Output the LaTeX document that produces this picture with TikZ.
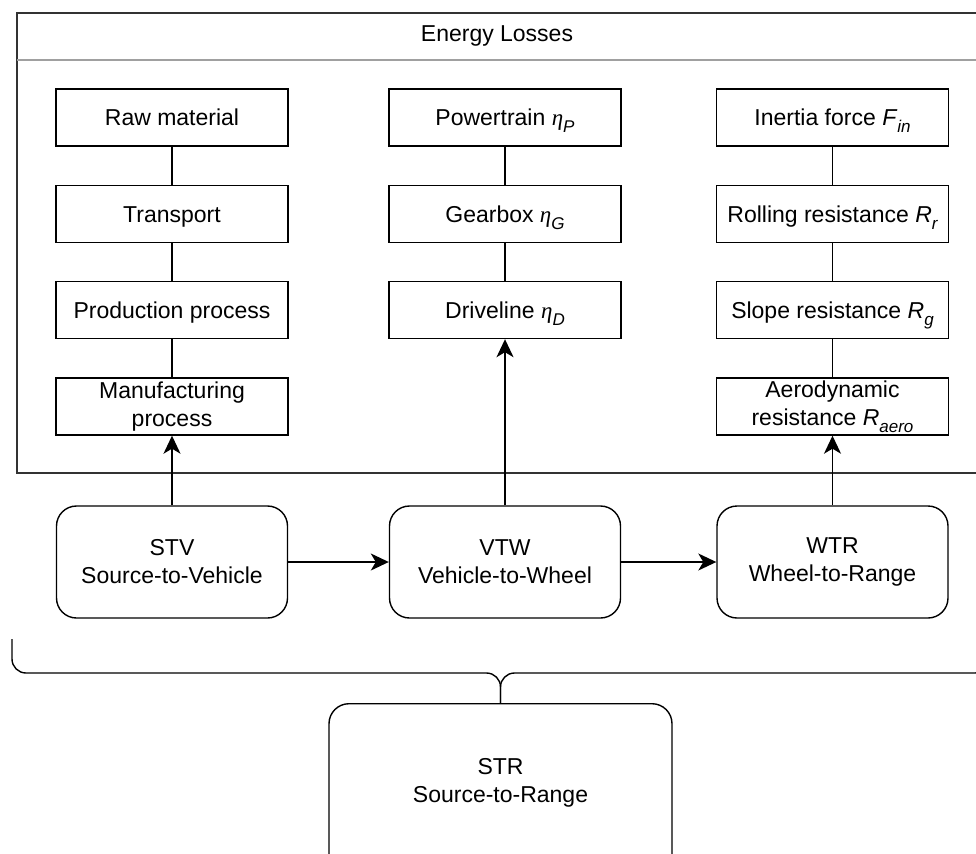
\documentclass[tikz,border=0pt]{standalone}
\usepackage{fontspec}
\setmainfont{Liberation Sans}
\newfontfamily\etafont{Liberation Serif}
\usetikzlibrary{arrows.meta}

% italic subscript at a fixed size, for symbols set inside large labels
\newcommand{\lowidx}[1]{\raisebox{-0.3em}{\fontsize{17}{17}\selectfont\itshape #1}}
\newcommand{\effsym}[1]{{\etafont\itshape η}\lowidx{#1}}
\newcommand{\varsym}[2]{\textit{#1}\lowidx{#2}}

\definecolor{framegray}{HTML}{333333}
\definecolor{rulegray}{HTML}{A0A0A0}

\begin{document}
\begin{tikzpicture}[x=1pt, y=-1pt,
  font=\fontsize{23}{28}\selectfont,
  lossbox/.style={draw, line width=1.4pt, minimum width=232pt, minimum height=57pt,
    align=center, inner sep=1pt},
  oneline/.style={lossbox, text height=16.5pt, text depth=0pt},
  stagebox/.style={draw, line width=1.4pt, rounded corners=20pt, minimum width=231pt,
    minimum height=112pt, align=center},
  link/.style={line width=1.4pt},
  flow/.style={line width=1.4pt, -{Stealth[length=18pt, width=17pt, inset=5pt]}},
  bracket/.style={line width=1.4pt, rounded corners=14pt}]

\useasboundingbox (0,0) rectangle (976,853);
\clip (0,0) rectangle (976,853);

% container for the loss categories
\draw[line width=1.4pt, framegray] (17,13) rectangle (995,473);
\draw[line width=1.4pt, rulegray] (17,60) -- (995,60);
\node[text height=16.5pt, text depth=0pt] (title) at (497,33) {Energy Losses};

% loss chains
\node[oneline] (raw)   at (172,117.5) {Raw material};
\node[oneline] (trans) at (172,214)   {Transport};
\node[oneline] (prod)  at (172,310)   {Production process};
\node[lossbox] (manu)  at (172,406.5) {Manufacturing\\process};

\node[oneline] (power) at (505,117.5) {Powertrain \effsym{P}};
\node[oneline] (gear)  at (505,214)   {Gearbox \effsym{G}};
\node[oneline] (drive) at (505,310)   {Driveline \effsym{D}};

\node[oneline] (inert) at (832.5,117.5) {Inertia force \varsym{F}{in}};
\node[oneline] (roll)  at (832.5,214)   {Rolling resistance \varsym{R}{r}};
\node[oneline] (slope) at (832.5,310)   {Slope resistance \varsym{R}{g}};
\node[lossbox] (aero)  at (832.5,406.5) {Aerodynamic\\resistance \varsym{R}{aero}};

\draw[link] (raw) -- (trans);
\draw[link] (trans) -- (prod);
\draw[link] (prod) -- (manu);
\draw[link] (power) -- (gear);
\draw[link] (gear) -- (drive);
\draw[link] (inert) -- (roll);
\draw[link] (roll) -- (slope);
\draw[link] (slope) -- (aero);

% stages
\node[stagebox] (stv) at (172,562)   {STV\\Source-to-Vehicle};
\node[stagebox] (vtw) at (505,562)   {VTW\\Vehicle-to-Wheel};
\node[stagebox] (wtr) at (832.5,562) {WTR\\Wheel-to-Range};

\draw[flow] (stv) -- (vtw);
\draw[flow] (vtw) -- (wtr);
\draw[flow] (stv) -- (manu);
\draw[flow] (vtw) -- (drive);
\draw[flow] (wtr) -- (aero);

% overall chain, gathered by a brace
\node[stagebox, minimum width=343pt, minimum height=180pt, anchor=north] (str) at (500.5,703) {};
\node[align=center] (strtext) at (500.5,783) {STR\\Source-to-Range};

\coordinate (braceL) at (12,639);
\coordinate (braceR) at (989,639);
\draw[bracket] (braceL) -- (12,673) -- (str.north |- 0,673) -- (str.north);
\draw[bracket] (braceR) -- (989,673) -- (str.north |- 0,673) -- (str.north);
\end{tikzpicture}
\end{document}
